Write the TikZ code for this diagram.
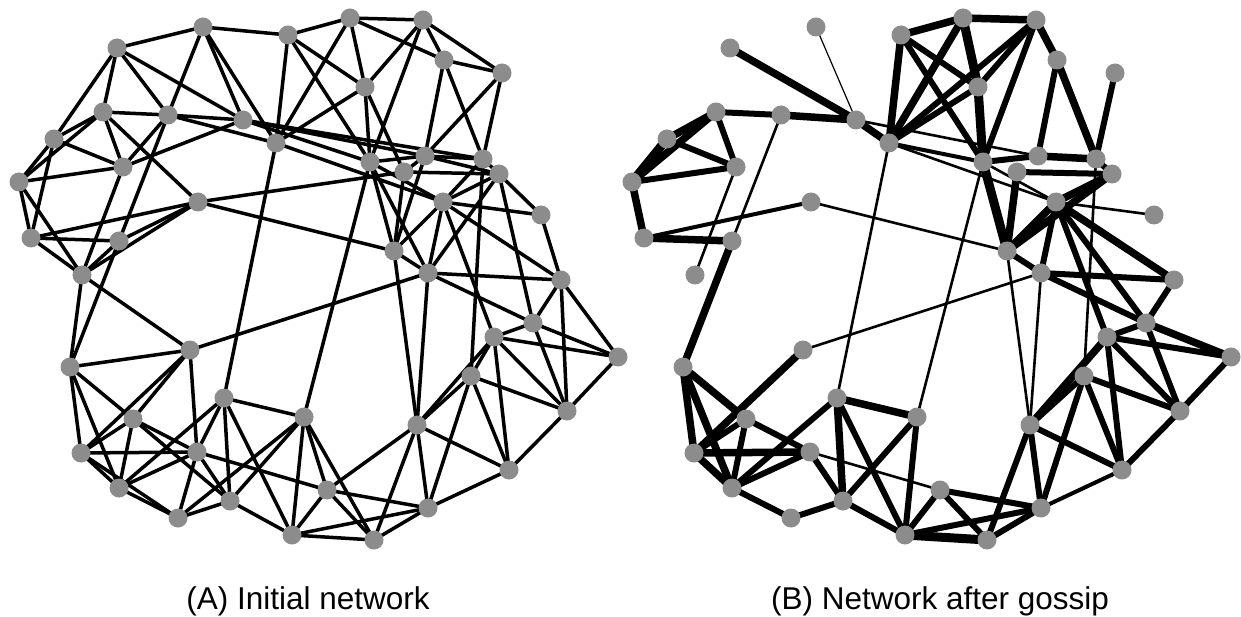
\documentclass[tikz,border=0pt]{standalone}
\usepackage{fontspec}
\setmainfont{Liberation Sans}
\usetikzlibrary{backgrounds}
\definecolor{nodegray}{RGB}{140,140,140}
\tikzset{
  vtx/.style={circle, fill=nodegray, minimum size=19pt, inner sep=0pt},
  link/.style={line width=3.5pt},
  wa/.style={line width=1.2pt},
  wb/.style={line width=2.6pt},
  wc/.style={line width=4pt},
  wd/.style={line width=6pt},
  we/.style={line width=7.5pt},
  wf/.style={line width=9pt},
  captext/.style={anchor=base, font=\fontsize{31.5}{38}\selectfont}
}
% node positions (pixels of the left network)
\newcommand{\netpos}{1/117/48, 2/203/27, 3/288/35, 4/350/18, 5/423/20, 6/444/60, 7/502/73, 8/365/87,
  9/103/112, 10/168/115, 11/243/120, 12/276/143, 13/54/139, 14/123/167, 15/19/182, 16/198/202,
  17/31/238, 18/119/241, 19/82/275, 20/370/162, 21/425/156, 22/483/159, 23/404/172, 24/499/174,
  25/443/202, 26/541/215, 27/394/251, 28/428/273, 29/561/280, 30/533/323, 31/494/337, 32/618/357,
  33/471/376, 34/567/411, 35/417/425, 36/509/470, 37/327/490, 38/428/508, 39/374/540, 40/190/350,
  41/70/367, 42/224/398, 43/304/417, 44/133/419, 45/81/453, 46/197/452, 47/119/488, 48/230/501,
  49/178/518, 50/292/535}

\begin{document}
\begin{tikzpicture}[x=1pt,y=1pt]
\useasboundingbox (0,0) rectangle (1241,-617);

% vertices of both networks
\foreach \i/\x/\y in \netpos {
  \node[vtx] (a\i) at (\x,-\y) {};
  \node[vtx] (b\i) at (\x+613,-\y) {};
}

\begin{scope}[on background layer]
% (A) initial network
\foreach \u/\v in {1/2, 2/3, 3/4, 1/13, 1/9, 1/10, 1/11, 2/10, 2/11, 2/12, 3/12, 3/8, 3/20, 4/12,
  8/12, 9/10, 10/11, 10/12, 9/13, 9/15, 13/15, 9/14, 9/16, 13/14, 14/15, 11/14, 10/14, 14/19,
  10/18, 16/17, 16/18, 16/19, 16/23, 16/27, 15/17, 15/19, 13/17, 17/18, 17/19, 18/19, 18/41,
  11/20, 11/21, 11/22, 12/25, 12/42, 4/5, 4/8, 4/6, 5/8, 5/20, 5/6, 5/7, 6/7, 6/21, 6/22, 7/22,
  7/21, 8/20, 8/23, 20/21, 20/25, 20/27, 20/28, 21/22, 21/24, 21/23, 21/27, 22/24, 22/25, 22/33,
  23/24, 23/27, 24/25, 24/28, 25/26, 25/27, 25/28, 25/29, 26/29, 24/26, 27/28, 20/43, 27/35,
  25/31, 24/30, 28/29, 28/30, 28/35, 28/40, 29/30, 29/34, 29/32, 30/31, 30/34, 30/32, 31/32,
  31/33, 31/34, 31/36, 31/35, 33/34, 33/35, 33/36, 33/38, 32/34, 34/36, 35/36, 35/37, 35/38,
  35/39, 36/38, 37/38, 37/39, 37/50, 38/39, 38/50, 39/50, 39/43, 37/43, 19/41, 19/40, 40/41,
  40/45, 40/44, 40/46, 41/44, 41/45, 41/47, 42/43, 42/47, 42/46, 42/48, 42/50, 43/48, 43/50,
  43/49, 44/45, 44/47, 44/46, 44/48, 45/46, 45/47, 45/49, 46/47, 46/49, 46/48, 37/46, 47/49,
  48/49, 48/50}
  \draw[link] (a\u.center) -- (a\v.center);

% (B) network after gossip, by weight
\foreach \u/\v in {2/11}
  \draw[wa] (b\u.center) -- (b\v.center);
\foreach \u/\v in {10/18, 14/19, 16/27, 11/21, 12/25, 12/42, 20/43, 20/25, 25/26, 22/33, 27/35,
  28/40, 28/35, 37/46}
  \draw[wb] (b\u.center) -- (b\v.center);
\foreach \u/\v in {16/17, 12/20, 36/38}
  \draw[wc] (b\u.center) -- (b\v.center);
\foreach \u/\v in {9/10, 13/14, 9/14, 14/15, 3/8, 3/20, 5/8, 5/12, 5/20, 8/12, 6/21, 7/22, 20/21,
  22/24, 23/24, 25/28, 27/28, 25/30, 25/31, 28/29, 28/30, 29/30, 30/31, 30/34, 31/32, 31/34,
  31/36, 33/34, 33/35, 33/36, 33/38, 32/34, 34/36, 35/36, 35/38, 35/39, 37/38, 37/39, 37/50,
  38/39, 38/50, 42/47, 42/50, 43/48, 43/50, 44/46, 44/47, 44/45, 46/47, 46/48, 47/49, 48/49, 48/50}
  \draw[wd] (b\u.center) -- (b\v.center);
\foreach \u/\v in {1/11, 10/11, 11/12, 9/13, 9/15, 15/17, 17/18, 18/41, 3/4, 3/12, 4/5, 4/12, 5/6,
  6/22, 21/22, 23/27, 24/27, 25/27, 24/25, 25/29, 30/32, 31/35, 41/44, 41/45, 41/47, 40/45,
  42/43, 42/48, 45/46, 45/47}
  \draw[we] (b\u.center) -- (b\v.center);
\foreach \u/\v in {13/15, 4/8, 8/20, 20/27, 39/50}
  \draw[wf] (b\u.center) -- (b\v.center);
\end{scope}

% captions
\node[captext] (capA) at (308,-609) {(A) Initial network};
\node[captext] (capB) at (940,-609) {(B) Network after gossip};
\end{tikzpicture}
\end{document}
